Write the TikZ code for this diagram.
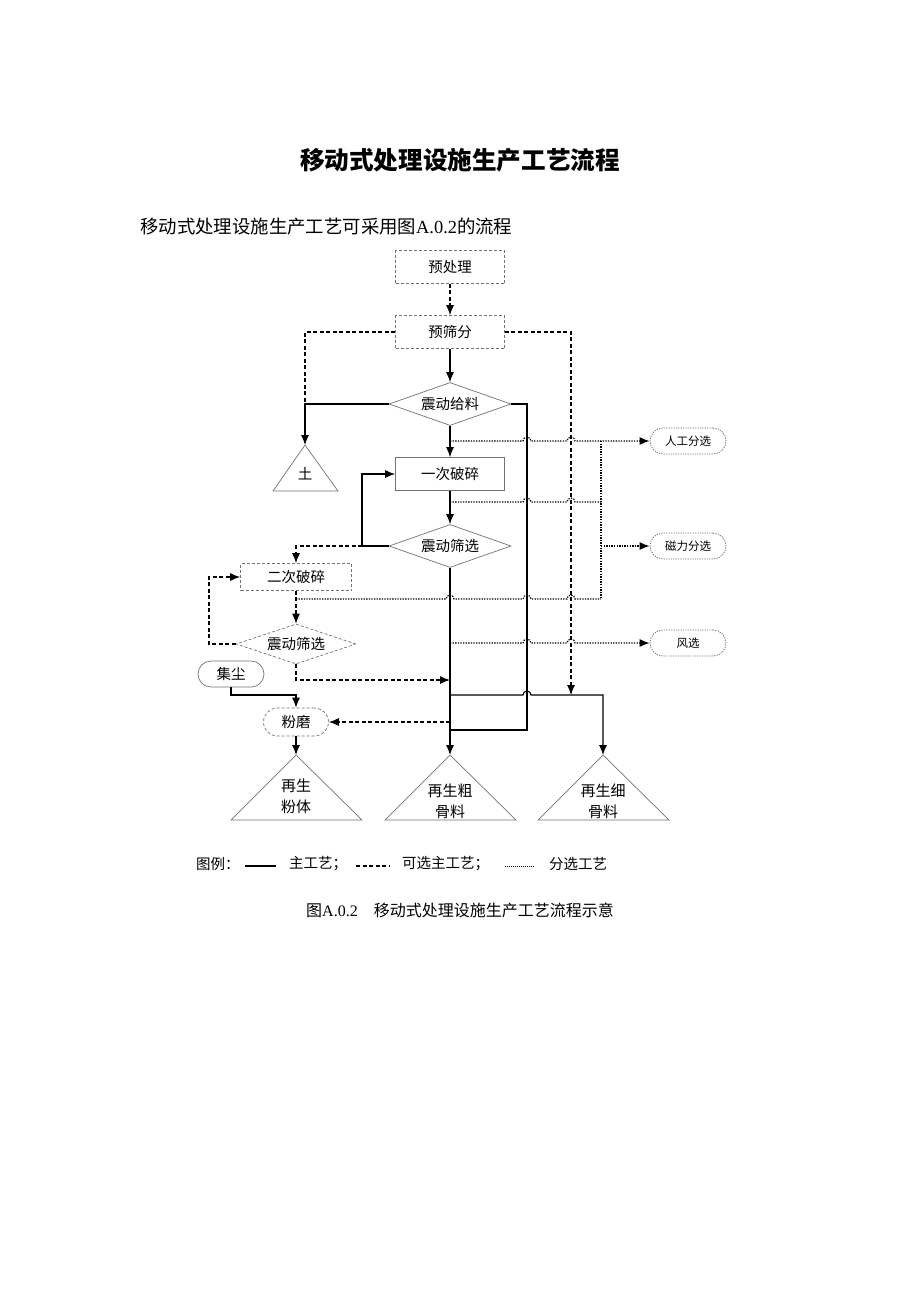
\documentclass[tikz,border=0pt]{standalone}
\usepackage{fontspec}
\setmainfont{Liberation Serif}
\newfontfamily\cjk{Noto Sans CJK SC}
\usepackage{tikz}
\usetikzlibrary{shapes.geometric,arrows.meta}
\def\mnodecolor{black!55}
\def\mlinewidth{1.1pt}
\def\mnodefont{\cjk\fontsize{14.5}{17}\selectfont}
\def\msmallfont{\cjk\fontsize{11.5}{14}\selectfont}
\tikzset{
	mbox/.style={draw=\mnodecolor, line width=0.7pt, minimum width=109pt, minimum height=33pt, inner sep=0pt, font=\mnodefont},
	moptbox/.style={mbox, dash pattern=on 3pt off 2pt},
	mdiamond/.style={diamond, aspect=2.8, draw=\mnodecolor, line width=0.7pt, minimum width=122pt, minimum height=43pt, inner sep=0pt, font=\mnodefont},
	mpill/.style={draw=\mnodecolor, line width=0.8pt, rounded corners=13pt, minimum width=76pt, minimum height=26pt, inner sep=0pt, font=\msmallfont, dash pattern=on 1.2pt off 1.2pt},
	mtri/.style={draw=\mnodecolor, line width=0.7pt},
	mainline/.style={line width=\mlinewidth},
	optline/.style={line width=\mlinewidth, dash pattern=on 4pt off 2.5pt},
	sortline/.style={line width=1.2pt, dash pattern=on 1.3pt off 1.3pt},
	marr/.style={-{Latex[length=10pt,width=8pt]}},
}
\begin{document}
\begin{tikzpicture}[x=1pt, y=-1pt]
	\path[fill=white, use as bounding box] (0,0) rectangle (920,1302);
	% headings
	\node (title) at (460,160) {\cjk\bfseries\fontsize{24.6}{28}\selectfont 移动式处理设施生产工艺流程};
	\node[anchor=west, inner sep=0pt] (intro) at (140,227) {\cjk\fontsize{18.4}{21}\selectfont 移动式处理设施生产工艺可采用图{\rmfamily A.0.2}的流程};
	% process nodes
	\node[moptbox] (pre) at (450,267) {预处理};
	\node[moptbox] (presc) at (450,332) {预筛分};
	\node[mdiamond] (feed) at (450,404) {震动给料};
	\node[mbox] (crush1) at (450,474) {一次破碎};
	\node[mdiamond] (screen1) at (450,546) {震动筛选};
	\node[moptbox, minimum width=111pt, minimum height=27pt] (crush2) at (296,577) {二次破碎};
	\node[mdiamond, minimum width=120pt, minimum height=40pt, dash pattern=on 3pt off 2pt] (screen2) at (296,644) {震动筛选};
	\node[mpill, solid, line width=0.7pt, minimum width=66pt] (dust) at (231,674) {\mnodefont 集尘};
	\node[mpill, line width=0.7pt, dash pattern=on 3pt off 2pt, minimum width=65pt, minimum height=28pt, rounded corners=14pt] (mill) at (296,722) {\mnodefont 粉磨};
	\node[mpill] (hand) at (688,441) {人工分选};
	\node[mpill] (magnet) at (688,546) {磁力分选};
	\node[mpill] (wind) at (688,643) {风选};
	% product piles
	\draw[mtri] (305,445) -- (338,491) -- (273,491) -- cycle;
	\draw[mtri] (296,755) -- (362,820) -- (231,820) -- cycle;
	\draw[mtri] (450,755) -- (516,820) -- (385,820) -- cycle;
	\draw[mtri] (603,755) -- (669,820) -- (538,820) -- cycle;
	\node[font=\mnodefont] (soil) at (305,474) {土};
	\node[font={\cjk\fontsize{15}{21}\selectfont}, align=center] (powder) at (296,796) {再生\\粉体};
	\node[font={\cjk\fontsize{15}{21}\selectfont}, align=center] (coarse) at (450,801) {再生粗\\骨料};
	\node[font={\cjk\fontsize{15}{21}\selectfont}, align=center] (fine) at (603,801) {再生细\\骨料};
	\coordinate (soiltop) at (305,445);
	\coordinate (powdertop) at (296,755);
	\coordinate (coarsetop) at (450,755);
	\coordinate (finetop) at (603,755);
	% junctions
	\coordinate (loop1) at (362,546);
	\coordinate (loop2) at (209,644);
	\coordinate (optin) at (450,680);
	\coordinate (optfine) at (571,695);
	\coordinate (fineout) at (450,695);
	\coordinate (finecorner) at (603,695);
	\coordinate (bypass) at (527,730);
	\coordinate (bypassin) at (450,730);
	\coordinate (millin) at (450,722);
	\coordinate (dustturn) at (296,695);
	\coordinate (sort1) at (450,441);
	\coordinate (sort2) at (450,502);
	\coordinate (sort3) at (296,599);
	\coordinate (sort4) at (450,643);
	\coordinate (bustop) at (601,441);
	\coordinate (busend) at (601,599);
	% main and optional flow
	\draw[optline, marr] (pre) -- (presc);
	\draw[mainline, marr] (presc) -- (feed);
	\draw[optline] (presc.west) -| (feed.west -| soiltop);
	\draw[mainline, marr] (feed.west) -| (soiltop);
	\draw[optline, marr] (presc.east) -| (optfine);
	\draw[mainline] (feed.east) -| (bypass) -- (bypassin);
	\draw[mainline, marr] (feed) -- (crush1);
	\draw[mainline, marr] (crush1) -- (screen1);
	\draw[mainline, marr] (screen1.west) -- (loop1) |- (crush1.west);
	\draw[optline, marr] (loop1) -| (crush2.north);
	\draw[optline, marr] (crush2) -- (screen2);
	\draw[optline, marr] (screen2.west) -- (loop2) |- (crush2.west);
	\draw[optline, marr] (screen2.south) |- (optin);
	\draw[mainline, marr] (screen1) -- (coarsetop);
	\draw[mainline, marr] (fineout) -- (523,695) arc[start angle=180, end angle=360, radius=4] -- (finecorner) -- (finetop);
	\draw[optline, marr] (millin) -- (mill.east);
	\draw[mainline, marr] (dust.south) |- (dustturn) -- (mill.north);
	\draw[mainline, marr] (mill) -- (powdertop);
	% sorting branches
	\draw[sortline, marr] (sort1) -- (523,441) arc[start angle=180, end angle=360, radius=4]
		-- (567,441) arc[start angle=180, end angle=360, radius=4] -- (hand.west);
	\draw[sortline] (sort2) -- (523,502) arc[start angle=180, end angle=360, radius=4]
		-- (567,502) arc[start angle=180, end angle=360, radius=4] -- (busend |- sort2);
	\draw[sortline] (sort3) -- (446,599) arc[start angle=180, end angle=360, radius=4]
		-- (523,599) arc[start angle=180, end angle=360, radius=4]
		-- (567,599) arc[start angle=180, end angle=360, radius=4] -- (busend);
	\draw[sortline] (bustop) -- (busend);
	\draw[sortline, marr] (magnet.west -| bustop) -- (magnet.west);
	\draw[sortline, marr] (sort4) -- (523,643) arc[start angle=180, end angle=360, radius=4]
		-- (567,643) arc[start angle=180, end angle=360, radius=4] -- (wind.west);
	% legend
	\node[anchor=west, inner sep=0pt, font=\mnodefont] (legend) at (196,864) {图例：};
	\draw[line width=1.5pt] (245,866) -- (276,866);
	\node[anchor=west, inner sep=0pt, font=\mnodefont] (legmain) at (289,864) {主工艺；};
	\draw[line width=1.1pt, dash pattern=on 4pt off 2.5pt] (356,866) -- (389,866);
	\node[anchor=west, inner sep=0pt, font=\mnodefont] (legopt) at (402,864) {可选主工艺；};
	\draw[line width=0.9pt, dash pattern=on 1pt off 1pt] (505,866) -- (535,866);
	\node[anchor=west, inner sep=0pt, font=\mnodefont] (legsort) at (549,864) {分选工艺};
	\node[font={\cjk\fontsize{16}{19}\selectfont}] (caption) at (460,910) {图{\rmfamily A.0.2}\quad 移动式处理设施生产工艺流程示意};
\end{tikzpicture}
\end{document}
